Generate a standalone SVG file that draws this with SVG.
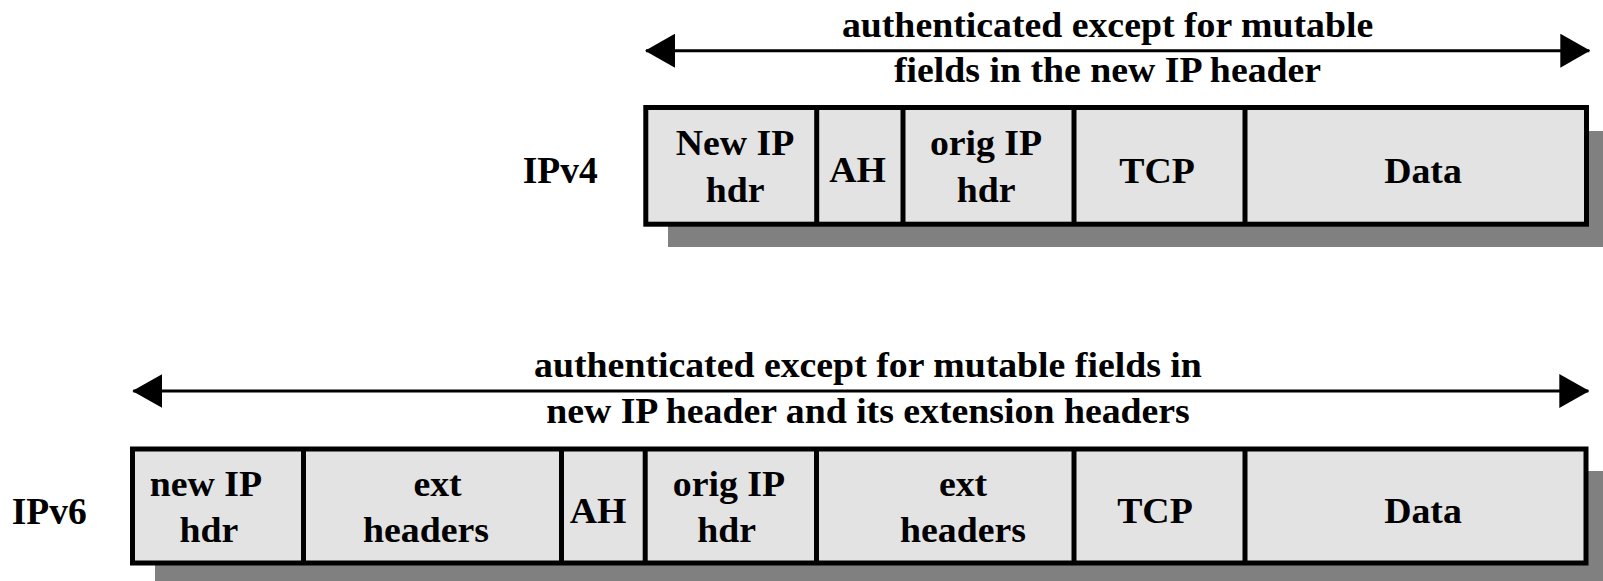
<svg xmlns="http://www.w3.org/2000/svg" width="1603" height="581" viewBox="0 0 1603 581">
  <defs>
    <style>
      .lbl { font-family: "Liberation Serif", "Times New Roman", serif; font-weight: bold; font-size: 35px; fill: #000; text-anchor: middle; }
      .side { font-family: "Liberation Serif", "Times New Roman", serif; font-weight: bold; font-size: 37.5px; fill: #000; text-anchor: start; }
      .shadow { fill: #808080; stroke: none; }
      .frame { fill: #e3e3e3; stroke: #000; stroke-width: 5; }
      .div { stroke: #000; stroke-width: 5; fill: none; }
      .span { stroke: #000; stroke-width: 3; fill: none; marker-start: url(#head); marker-end: url(#head); }
    </style>
    <marker id="head" viewBox="0 0 30 34" refX="29" refY="17" markerWidth="30" markerHeight="34" markerUnits="userSpaceOnUse" orient="auto-start-reverse">
      <path d="M0,0 L30,17 L0,34 Z" fill="#000"/>
    </marker>
  </defs>

  <rect width="1603" height="581" fill="#fff"/>

  <!-- IPv4 packet -->
  <g id="ipv4">
    <text class="side" x="522.7" y="183.3">IPv4</text>
    <rect class="shadow" x="668" y="131" width="935" height="116"/>
    <rect class="frame" x="645.8" y="107.5" width="940.7" height="116.7"/>
    <line class="div" x1="816.7" y1="107.5" x2="816.7" y2="224.2"/>
    <line class="div" x1="903" y1="107.5" x2="903" y2="224.2"/>
    <line class="div" x1="1074" y1="107.5" x2="1074" y2="224.2"/>
    <line class="div" x1="1245" y1="107.5" x2="1245" y2="224.2"/>
    <!-- field names, widened to the wide bold serif face -->
    <g transform="scale(1.08 1)">
      <text class="lbl" x="680.6" y="155">New IP</text>
      <text class="lbl" x="680.6" y="201.7">hdr</text>
      <text class="lbl" x="794" y="182">AH</text>
      <text class="lbl" x="913" y="155">orig IP</text>
      <text class="lbl" x="913" y="201.7">hdr</text>
      <text class="lbl" x="1071.3" y="183">TCP</text>
      <text class="lbl" x="1317.6" y="183">Data</text>
    </g>
  </g>

  <!-- IPv6 packet -->
  <g id="ipv6">
    <text class="side" x="11.7" y="524">IPv6</text>
    <rect class="shadow" x="155" y="471" width="1448" height="110"/>
    <rect class="frame" x="132.5" y="449" width="1453.5" height="114"/>
    <line class="div" x1="303.5" y1="449" x2="303.5" y2="563"/>
    <line class="div" x1="561.5" y1="449" x2="561.5" y2="563"/>
    <line class="div" x1="645.2" y1="449" x2="645.2" y2="563"/>
    <line class="div" x1="816.5" y1="449" x2="816.5" y2="563"/>
    <line class="div" x1="1074" y1="449" x2="1074" y2="563"/>
    <line class="div" x1="1245" y1="449" x2="1245" y2="563"/>
    <g transform="scale(1.08 1)">
      <text class="lbl" x="190.7" y="496">new IP</text>
      <text class="lbl" x="193.5" y="541.7">hdr</text>
      <text class="lbl" x="405.1" y="496">ext</text>
      <text class="lbl" x="394.4" y="541.7">headers</text>
      <text class="lbl" x="553.7" y="523.3">AH</text>
      <text class="lbl" x="675" y="496">orig IP</text>
      <text class="lbl" x="672.8" y="541.7">hdr</text>
      <text class="lbl" x="891.7" y="496">ext</text>
      <text class="lbl" x="891.7" y="541.7">headers</text>
      <text class="lbl" x="1069.4" y="523.3">TCP</text>
      <text class="lbl" x="1317.6" y="523.3">Data</text>
    </g>
  </g>

  <!-- coverage spans -->
  <g id="connectors">
    <line class="span" x1="646" y1="50.7" x2="1589.3" y2="50.7"/>
    <line class="span" x1="133.3" y1="391" x2="1588.3" y2="391"/>
  </g>

  <g id="span-labels" transform="scale(1.08 1)">
    <text class="lbl" x="1025.5" y="36.7">authenticated except for mutable</text>
    <text class="lbl" x="1025.5" y="81.7">fields in the new IP header</text>
    <text class="lbl" x="803.7" y="376.7">authenticated except for mutable fields in</text>
    <text class="lbl" x="803.7" y="423.3">new IP header and its extension headers</text>
  </g>
</svg>
